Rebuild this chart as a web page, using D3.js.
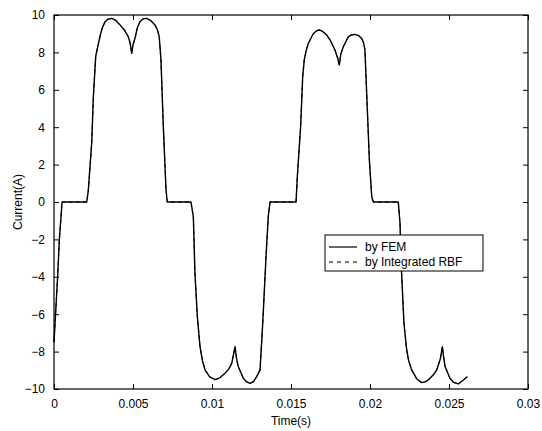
<!DOCTYPE html>
<html><head><meta charset="utf-8">
<script src="https://cdn.jsdelivr.net/npm/d3@7/dist/d3.min.js"></script>
<style>body{margin:0;background:#fff}svg{display:block}text{font-family:"Liberation Sans",Arial,sans-serif;fill:#000}</style>
</head><body><svg id="c" width="542" height="431"></svg>
<script>
const timeValues = [0,0.00023,0.00034,0.00051,0.00207,0.00217,0.00239,0.00249,0.00264,0.00291,0.00305,0.00323,0.00343,0.00365,0.00390,0.00418,0.00445,0.00470,0.00482,0.00492,0.00500,0.00513,0.00527,0.00544,0.00565,0.00587,0.00612,0.00639,0.00655,0.00666,0.00677,0.00692,0.00709,0.00717,
0.00867,0.00882,0.00892,0.00907,0.00924,0.00940,0.00956,0.00985,0.01019,0.01050,0.01082,0.01105,0.01125,0.01146,0.01156,0.01166,0.01198,0.01220,0.01241,0.01262,0.01283,0.01304,0.01321,0.01342,0.01356,0.01367,
0.01532,0.01540,0.01561,0.01574,0.01584,0.01596,0.01610,0.01641,0.01660,0.01679,0.01700,0.01726,0.01752,0.01778,0.01795,0.01806,0.01815,0.01831,0.01863,0.01883,0.01905,0.01927,0.01947,0.01960,0.01968,0.01979,0.01996,0.02011,0.02021,
0.02179,0.02190,0.02200,0.02215,0.02232,0.02245,0.02264,0.02295,0.02327,0.02355,0.02380,0.02405,0.02422,0.02445,0.02458,0.02466,0.02475,0.02506,0.02530,0.02559,0.02591,0.02616];
const femCurrent = [-7.5,-4,-2,0,0,0.6,3.2,5.6,7.8,8.85,9.3,9.64,9.78,9.82,9.72,9.47,9.2,8.84,8.5,7.95,8.4,8.77,9.3,9.64,9.8,9.82,9.7,9.47,9.2,8.84,7.6,4.03,0.64,0,
0,-0.8,-3.8,-6.1,-7.74,-8.5,-8.98,-9.35,-9.5,-9.4,-9.16,-8.95,-8.63,-7.74,-8.4,-8.8,-9.43,-9.62,-9.7,-9.6,-9.34,-8.98,-6.5,-2.9,-0.8,0,
0,1.35,4.03,6.7,7.6,8.1,8.49,9.0,9.15,9.2,9.12,8.93,8.6,8.13,7.7,7.33,7.9,8.3,8.84,8.94,8.96,8.9,8.75,8.5,8.13,5.8,2.25,0.28,0,
0,-1.14,-3.8,-6.5,-7.9,-8.5,-8.98,-9.45,-9.66,-9.6,-9.43,-9.2,-8.98,-8.4,-7.74,-8.3,-8.8,-9.43,-9.65,-9.73,-9.52,-9.34];
const rbfCurrent = [-7.5,-4,-2,0,0,0.6,3.2,5.6,7.8,8.85,9.3,9.64,9.78,9.82,9.72,9.47,9.2,8.84,8.5,7.95,8.4,8.77,9.3,9.64,9.8,9.82,9.7,9.47,9.2,8.84,7.6,4.03,0.64,0,
0,-0.8,-3.8,-6.1,-7.74,-8.5,-8.98,-9.35,-9.5,-9.4,-9.16,-8.95,-8.63,-7.74,-8.4,-8.8,-9.43,-9.62,-9.7,-9.6,-9.34,-8.98,-6.5,-2.9,-0.8,0,
0,1.35,4.03,6.7,7.6,8.1,8.49,9.0,9.15,9.2,9.12,8.93,8.6,8.13,7.7,7.33,7.9,8.3,8.84,8.94,8.96,8.9,8.75,8.5,8.13,5.8,2.25,0.28,0,
0,-1.14,-3.8,-6.5,-7.9,-8.5,-8.98,-9.45,-9.66,-9.6,-9.43,-9.2,-8.98,-8.4,-7.74,-8.3,-8.8,-9.43,-9.65,-9.73,-9.52,-9.34];
const xTicks = [0,0.005,0.01,0.015,0.02,0.025,0.03];
const xTickLabels = ["0","0.005","0.01","0.015","0.02","0.025","0.03"];
const yTicks = [-10,-8,-6,-4,-2,0,2,4,6,8,10];
const seriesNames = ["by FEM","by Integrated RBF"];

const svg = d3.select("#c");
const L=54, R=528, T=15, B=389;
const x = d3.scaleLinear().domain([0,0.03]).range([L,R]);
const y = d3.scaleLinear().domain([-10,10]).range([B,T]);

const fs = "12px";
const xa = svg.append("g").attr("transform",`translate(0,${B})`)
  .call(d3.axisBottom(x).tickValues(xTicks).tickFormat((d,i)=>xTickLabels[i]).tickSizeInner(-5).tickSizeOuter(0).tickPadding(10));
xa.select(".domain").remove();
xa.selectAll("text").style("font-size",fs);
const xt = svg.append("g").attr("transform",`translate(0,${T})`)
  .call(d3.axisTop(x).tickValues(xTicks).tickFormat("").tickSizeInner(-5).tickSizeOuter(0));
xt.select(".domain").remove();
const ya = svg.append("g").attr("transform",`translate(${L},0)`)
  .call(d3.axisLeft(y).tickValues(yTicks).tickSizeInner(-5).tickSizeOuter(0).tickPadding(9));
ya.select(".domain").remove();
ya.selectAll("text").style("font-size",fs);
const yr = svg.append("g").attr("transform",`translate(${R},0)`)
  .call(d3.axisRight(y).tickValues(yTicks).tickFormat("").tickSizeInner(-5).tickSizeOuter(0));
yr.select(".domain").remove();
svg.selectAll(".tick line").attr("stroke","#000");

svg.append("rect").attr("x",L).attr("y",T).attr("width",R-L).attr("height",B-T)
  .attr("fill","none").attr("stroke","#000").attr("stroke-width",1.2);

const line = d3.line().x((d,i)=>x(timeValues[i])).y(d=>y(d));
svg.append("path").datum(femCurrent).attr("d",line).attr("fill","none").attr("stroke","#000").attr("stroke-width",1.4).attr("stroke-linejoin","round");
svg.append("path").datum(rbfCurrent).attr("d",line).attr("fill","none").attr("stroke","#000").attr("stroke-width",1).attr("stroke-dasharray","4,3");

svg.append("text").attr("x",(L+R)/2).attr("y",425).attr("text-anchor","middle").style("font-size",fs).text("Time(s)");
svg.append("text").attr("transform",`translate(22,${(T+B)/2}) rotate(-90)`).attr("text-anchor","middle").style("font-size",fs).text("Current(A)");

const lg = svg.append("g");
lg.append("rect").attr("x",325).attr("y",235).attr("width",158).attr("height",36).attr("fill","#fff").attr("stroke","#000").attr("stroke-width",1);
lg.append("line").attr("x1",329).attr("x2",357).attr("y1",247).attr("y2",247).attr("stroke","#000").attr("stroke-width",1.2);
lg.append("line").attr("x1",329).attr("x2",357).attr("y1",262).attr("y2",262).attr("stroke","#000").attr("stroke-width",1).attr("stroke-dasharray","4,4");
lg.append("text").attr("x",365).attr("y",251).style("font-size",fs).text(seriesNames[0]);
lg.append("text").attr("x",365).attr("y",266).style("font-size",fs).text(seriesNames[1]);
</script></body></html>
